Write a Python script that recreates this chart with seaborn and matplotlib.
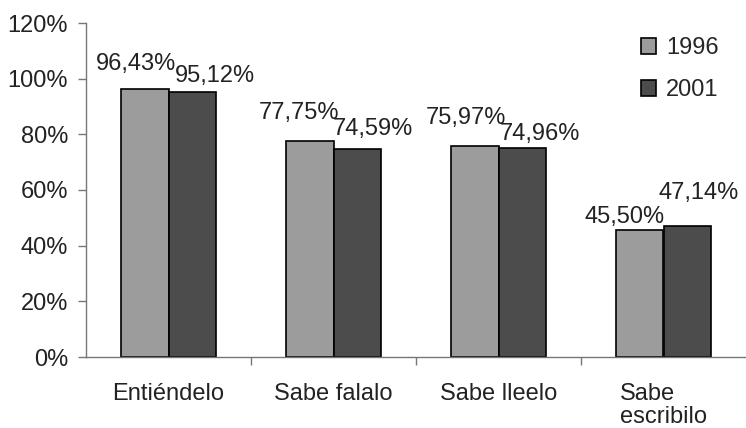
import matplotlib
matplotlib.use("Agg")
import matplotlib.pyplot as plt
import seaborn as sns
import pandas as pd

categories = ["Entiéndelo", "Sabe falalo", "Sabe lleelo", "Sabe\nescribilo"]
years = ["1996", "2001"]
values_1996 = [96.43, 77.75, 75.97, 45.50]
values_2001 = [95.12, 74.59, 74.96, 47.14]
y_ticks = [0, 20, 40, 60, 80, 100, 120]

# label placement (pixels relative to each bar's top centre)
label_offsets = {
    "1996": [(-9, 25), (-11, 28), (-9, 28), (-15, 13)],
    "2001": [(23, 16), (16, 20), (18, 14), (12, 33)],
}

df = pd.DataFrame({
    "categoria": categories * 2,
    "ano": [years[0]] * 4 + [years[1]] * 4,
    "valor": values_1996 + values_2001,
})

sns.set_theme(style="white")
plt.rcParams["font.family"] = ["Liberation Sans", "DejaVu Sans"]

FS = 17
TXT = "#222222"

fig = plt.figure(figsize=(7.46, 4.28), dpi=100)
fig.patch.set_facecolor("white")
ax = fig.add_axes([86 / 746, 1 - 357 / 428, 660 / 746, 334 / 428])

palette = {"1996": "#9c9c9c", "2001": "#4c4c4c"}
sns.barplot(data=df, x="categoria", y="valor", hue="ano", order=categories,
            hue_order=years, palette=palette, width=0.57, gap=0,
            edgecolor="black", linewidth=1.2, saturation=1, ax=ax)

# value labels above bars
for container, year in zip(ax.containers, years):
    vals = values_1996 if year == "1996" else values_2001
    for bar, v, (dx, dy) in zip(container, vals, label_offsets[year]):
        x = bar.get_x() + bar.get_width() / 2
        ax.annotate(f"{v:.2f}%".replace(".", ","), (x, v),
                    xytext=(dx, dy), textcoords="offset pixels",
                    ha="center", va="center", fontsize=FS, color=TXT)

ax.set_xlim(-0.5, 3.5)
ax.set_ylim(0, 120)
ax.set_yticks(y_ticks)
ax.set_yticklabels([f"{t}%" for t in y_ticks])
ax.set_xlabel("")
ax.set_ylabel("")

ax.set_xticks(range(len(categories)))
ax.set_xticklabels(categories, linespacing=1.05)
ax.set_xticks([0.5, 1.5, 2.5], minor=True)
ax.tick_params(axis="x", which="major", length=0, pad=19, labelsize=FS,
               labelcolor=TXT)
ax.tick_params(axis="x", which="minor", length=6, width=1, color="#777777",
               direction="out", bottom=True)
ax.tick_params(axis="y", length=6, width=1, color="#777777", direction="out",
               left=True, pad=7, labelsize=FS, labelcolor=TXT)
for lab in ax.get_xticklabels():
    lab.set_verticalalignment("top")
    lab.set_multialignment("left")

for side in ["top", "right"]:
    ax.spines[side].set_visible(False)
for side in ["left", "bottom"]:
    ax.spines[side].set_color("#777777")
    ax.spines[side].set_linewidth(1)

ax.grid(False)
ax.set_facecolor("white")

handles, labels = ax.get_legend_handles_labels()
ax.legend(handles, labels, loc="upper left", bbox_to_anchor=(641 / 746, 1 - 37 / 428),
          bbox_transform=fig.transFigure, frameon=False, fontsize=FS,
          handlelength=0.65, handleheight=0.65, handletextpad=0.4,
          labelspacing=0.85, borderaxespad=0, borderpad=0)

fig.savefig("out.png", dpi=100, facecolor="white")
